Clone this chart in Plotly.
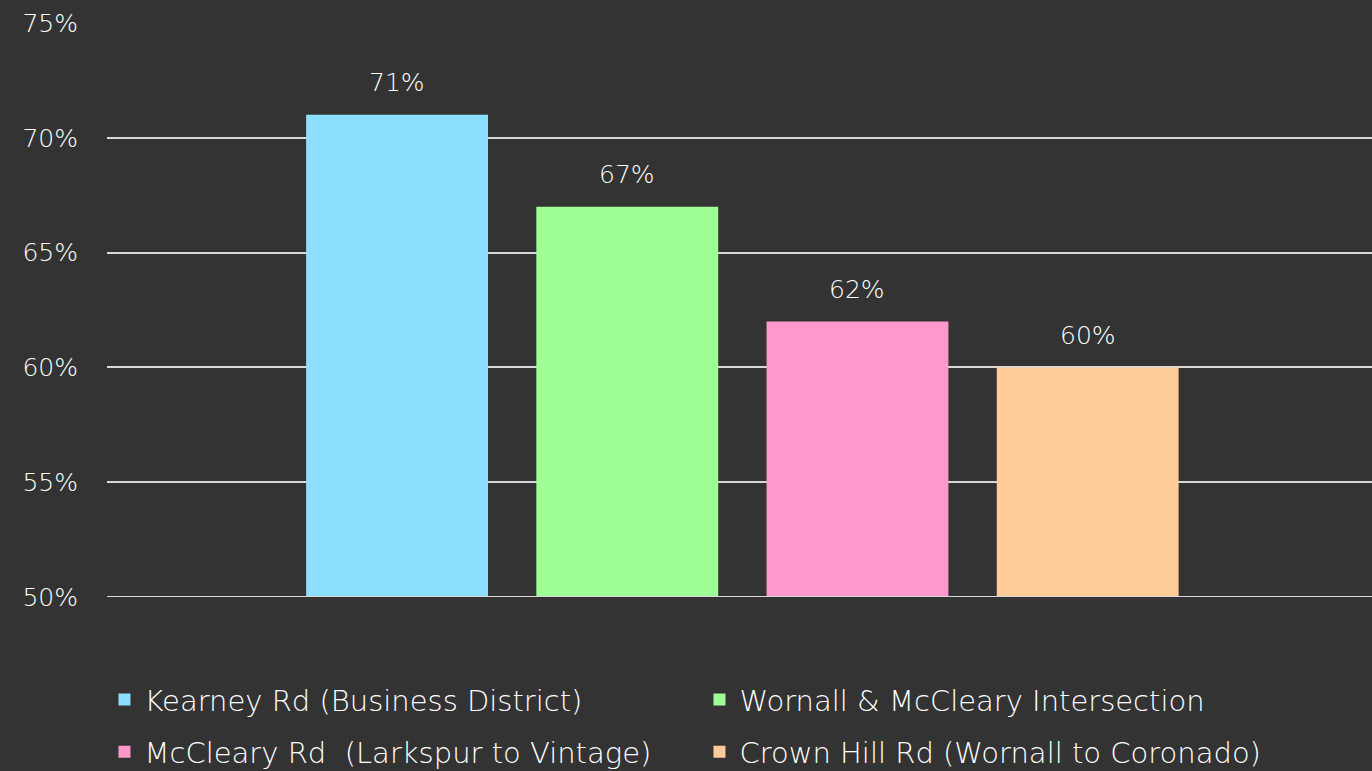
import plotly.graph_objects as go

categories = ["Kearney Rd (Business District)", "Wornall & McCleary Intersection",
              "McCleary Rd  (Larkspur to Vintage)", "Crown Hill Rd (Wornall to Coronado)"]
values = [71, 67, 62, 60]
colors = ["#8DDFFF", "#9EFF96", "#FF99CC", "#FFCC99"]
tick_vals = [50, 55, 60, 65, 70, 75]
tick_text = ["50%", "55%", "60%", "65%", "70%", "75%"]
legend_rows = ["legend", "legend", "legend2", "legend2"]

FONT = "DejaVu Sans"
fig = go.Figure()
for c, v, col, lg in zip(categories, values, colors, legend_rows):
    fig.add_trace(go.Bar(x=[c], y=[v], name=c.replace("  ", "\u00a0 "),
                         marker=dict(color=col, line=dict(width=0)),
                         width=0.79, hoverinfo="skip", legend=lg))
    fig.add_annotation(x=c, y=v, text=f"{v}%", showarrow=False, yshift=32,
                       font=dict(family=FONT, size=25, color="#FFFFFF", weight=200))

leg_common = dict(orientation="h", xanchor="left", yanchor="middle",
                  entrywidth=550, entrywidthmode="pixels", traceorder="normal",
                  font=dict(family=FONT, size=29, color="#FFFFFF", weight=200), itemwidth=30,
                  bgcolor="rgba(0,0,0,0)")

fig.update_layout(
    width=1372, height=771,
    paper_bgcolor="#333333", plot_bgcolor="#333333",
    margin=dict(l=107, r=0, t=23, b=174, autoexpand=False),
    barmode="overlay",
    font=dict(family=FONT, color="#FFFFFF"),
    xaxis=dict(range=[-1.26, 4.235], showticklabels=False, showgrid=False, zeroline=False,
               categoryorder="array", categoryarray=categories),
    yaxis=dict(range=[50, 75], tickvals=tick_vals, ticktext=tick_text, showgrid=True,
               gridcolor="#D9D9D9", gridwidth=2, zeroline=False, ticks="",
               tickfont=dict(family=FONT, size=25, color="#FFFFFF", weight=200),
               ticklabelstandoff=28),
    legend=dict(x=-0.002, y=-0.179, **leg_common),
    legend2=dict(x=-0.002, y=-0.27, **leg_common),
)
fig.add_shape(type="line", xref="paper", yref="y", x0=0, x1=1, y0=50, y1=50,
              line=dict(color="#D9D9D9", width=2))
fig.write_html("out.html", config={"displayModeBar": False},
               post_script="document.body.style.margin='0px';document.body.style.overflow='hidden';")
